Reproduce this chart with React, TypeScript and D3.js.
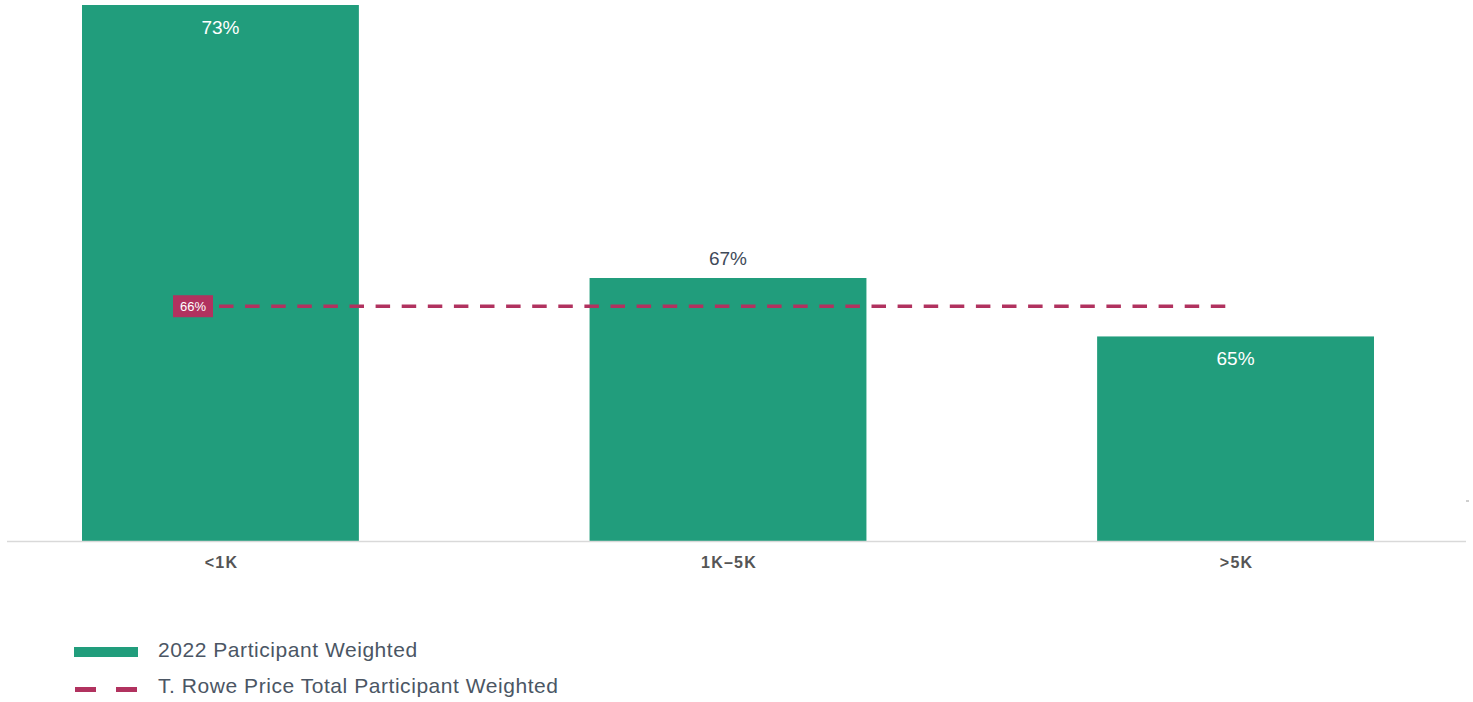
import React from "react";
import * as d3 from "d3";

const categories = ["<1K", "1K–5K", ">5K"];
const participantWeighted = [73, 67, 65];
const totalWeighted = 66;
const legendLabels = ["2022 Participant Weighted", "T. Rowe Price Total Participant Weighted"];

const W = 1473;
const H = 702;
const GREEN = "#219d7c";
const CRIMSON = "#b1325f";
const TEXT = "#3f4a59";

export default function App() {
  const x = d3.scaleBand<string>().domain(categories).range([82, 1374]).paddingInner(0.4545).paddingOuter(0);
  // axis is broken above 67 so the tallest bar fits the plot
  const y = d3.scaleLinear().domain([58, 67, 73]).range([541, 278, 5]);
  const base = 541;
  const lineY = y(totalWeighted) - 1;
  const labelRight = (x(categories[0]) as number) + 131;
  const lineStart = labelRight + 6;
  const lineEnd = (x(categories[2]) as number) + x.bandwidth() / 2 - 10.2;
  const lineGen = d3.line<[number, number]>().x((d) => d[0]).y((d) => d[1]);

  return (
    <svg
      width={W}
      height={H}
      style={{ position: "absolute", left: 0, top: 0, background: "#fff" }}
      fontFamily="'Liberation Sans', Arial, Helvetica, sans-serif"
    >
      {categories.map((c, i) => {
        const v = participantWeighted[i];
        const top = y(v);
        const cx = (x(c) as number) + x.bandwidth() / 2;
        const inside = top < lineY - 40 || top > lineY;
        return (
          <g key={c}>
            <rect x={x(c)} y={top} width={x.bandwidth()} height={base - top} fill={GREEN} />
            <text
              x={cx}
              y={inside ? top + 29 : top - 13}
              textAnchor="middle"
              fontSize={19}
              fill={inside ? "#ffffff" : TEXT}
            >
              {v}%
            </text>
            <text
              x={cx + 1}
              y={568}
              textAnchor="middle"
              fontSize={16}
              fontWeight="bold"
              letterSpacing={1.2}
              fill="#555555"
            >
              {c}
            </text>
          </g>
        );
      })}
      <line x1={7} x2={1466} y1={base + 0.5} y2={base + 0.5} stroke="#d9d9d9" strokeWidth={1.5} />
      <rect x={1466} y={500} width={3} height={2} fill="#cfcfcf" />
      <path
        d={lineGen([[lineStart, lineY], [lineEnd, lineY]]) as string}
        stroke={CRIMSON}
        strokeWidth={3.5}
        strokeDasharray="14.5 11.6"
        fill="none"
      />
      <rect x={labelRight - 40} y={lineY - 11} width={40} height={22} fill={CRIMSON} />
      <text x={labelRight - 20} y={lineY + 5} textAnchor="middle" fontSize={13} fill="#ffffff">
        {totalWeighted}%
      </text>
      <g>
        <rect x={74} y={647} width={64} height={10} fill={GREEN} />
        <text x={158} y={657} fontSize={21} letterSpacing={0.55} fill="#4b5664">
          {legendLabels[0]}
        </text>
        <line x1={75} x2={138} y1={689.5} y2={689.5} stroke={CRIMSON} strokeWidth={5} strokeDasharray="21 20" />
        <text x={158} y={693} fontSize={21} letterSpacing={0.55} fill="#4b5664">
          {legendLabels[1]}
        </text>
      </g>
    </svg>
  );
}
